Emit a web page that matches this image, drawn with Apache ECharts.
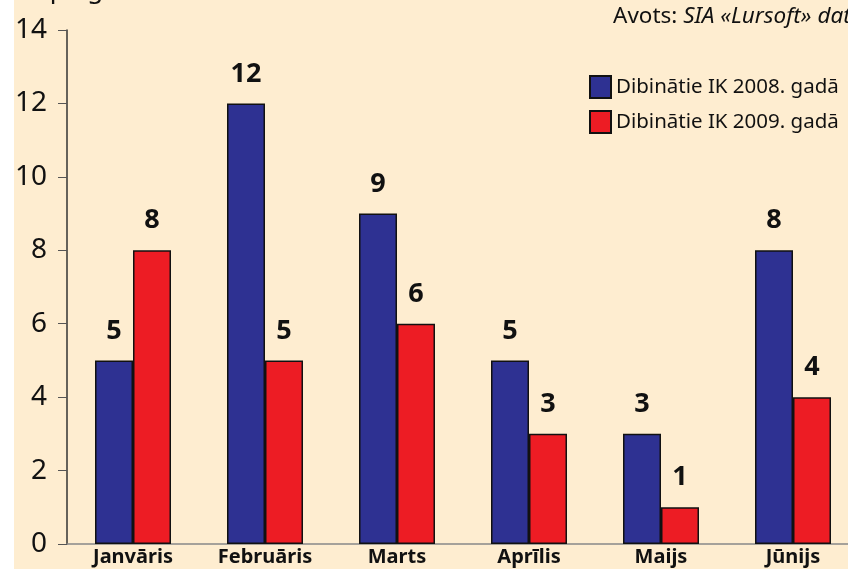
<!DOCTYPE html>
<html>
<head>
<meta charset="utf-8">
<script src="https://cdn.jsdelivr.net/npm/echarts@6/dist/echarts.min.js"></script>
<style>
  html, body { margin: 0; padding: 0; background: #fff; }
  #chart { width: 848px; height: 569px; }
</style>
</head>
<body>
<div id="chart"></div>
<script>
// mēneši
var months = ["Janvāris", "Februāris", "Marts", "Aprīlis", "Maijs", "Jūnijs"];
// dibināti IK pa mēnešiem
var ik2008 = [5, 12, 9, 5, 3, 8];
var ik2009 = [8, 5, 6, 3, 1, 4];
var yTicks = [0, 2, 4, 6, 8, 10, 12, 14];

var font = "'Noto Sans', sans-serif";
var myChart = echarts.init(document.getElementById("chart"));

function barSeries(name, data, color) {
  return {
    name: name,
    type: "bar",
    data: data,
    barWidth: 38,
    barGap: "0%",
    itemStyle: { color: color, borderColor: "#111", borderWidth: 1.5 },
    label: {
      show: true,
      position: "top",
      distance: 16,
      color: "#111",
      fontFamily: font,
      fontWeight: "bold",
      fontSize: 27,
    },
  };
}

myChart.setOption({
  backgroundColor: "#feedd0",
  animation: false,
  // kreisā balta josla
  graphic: [
    { type: "rect", left: 0, top: 0, shape: { width: 14, height: 569 }, style: { fill: "#fff" } },
    {
      type: "text",
      left: 613,
      top: 5,
      style: {
        text: "{n|Avots: }{i|SIA «Lursoft» dati}",
        rich: {
          n: { fontFamily: font, fontSize: 22.5, fill: "#111" },
          i: { fontFamily: font, fontSize: 22.5, fontStyle: "italic", fill: "#111" },
        },
      },
    },
    {
      type: "text",
      left: 18,
      top: -22,
      style: { text: "Kopā gab.", fontFamily: font, fontSize: 26, fill: "#111" },
    },
  ],
  legend: {
    orient: "vertical",
    left: 589,
    top: 75,
    padding: 0,
    itemWidth: 21,
    itemHeight: 22,
    itemGap: 11,
    icon: "rect",
    textStyle: { fontFamily: font, fontSize: 20.5, color: "#111" },
    data: ["Dibinātie IK 2008. gadā", "Dibinātie IK 2009. gadā"],
  },
  grid: { left: 67, width: 792, top: 30, bottom: 25, outerBoundsMode: "none" },
  xAxis: {
    type: "category",
    data: months,
    axisLine: { lineStyle: { color: "#888", width: 1.5 } },
    axisTick: { length: 8, lineStyle: { color: "#555" } },
    axisLabel: { margin: 3, color: "#111", fontFamily: font, fontWeight: "bold", fontSize: 20 },
  },
  yAxis: {
    type: "value",
    min: yTicks[0],
    max: yTicks[yTicks.length - 1],
    interval: 2,
    splitLine: { show: false },
    axisLine: { show: true, lineStyle: { color: "#333", width: 1.5 } },
    axisTick: { show: true, length: 9, lineStyle: { color: "#555" } },
    axisLabel: { margin: 20, color: "#111", fontFamily: font, fontSize: 28 },
  },
  series: [
    barSeries("Dibinātie IK 2008. gadā", ik2008, "#2e3192"),
    barSeries("Dibinātie IK 2009. gadā", ik2009, "#ed1c24"),
  ],
});
</script>
</body>
</html>
